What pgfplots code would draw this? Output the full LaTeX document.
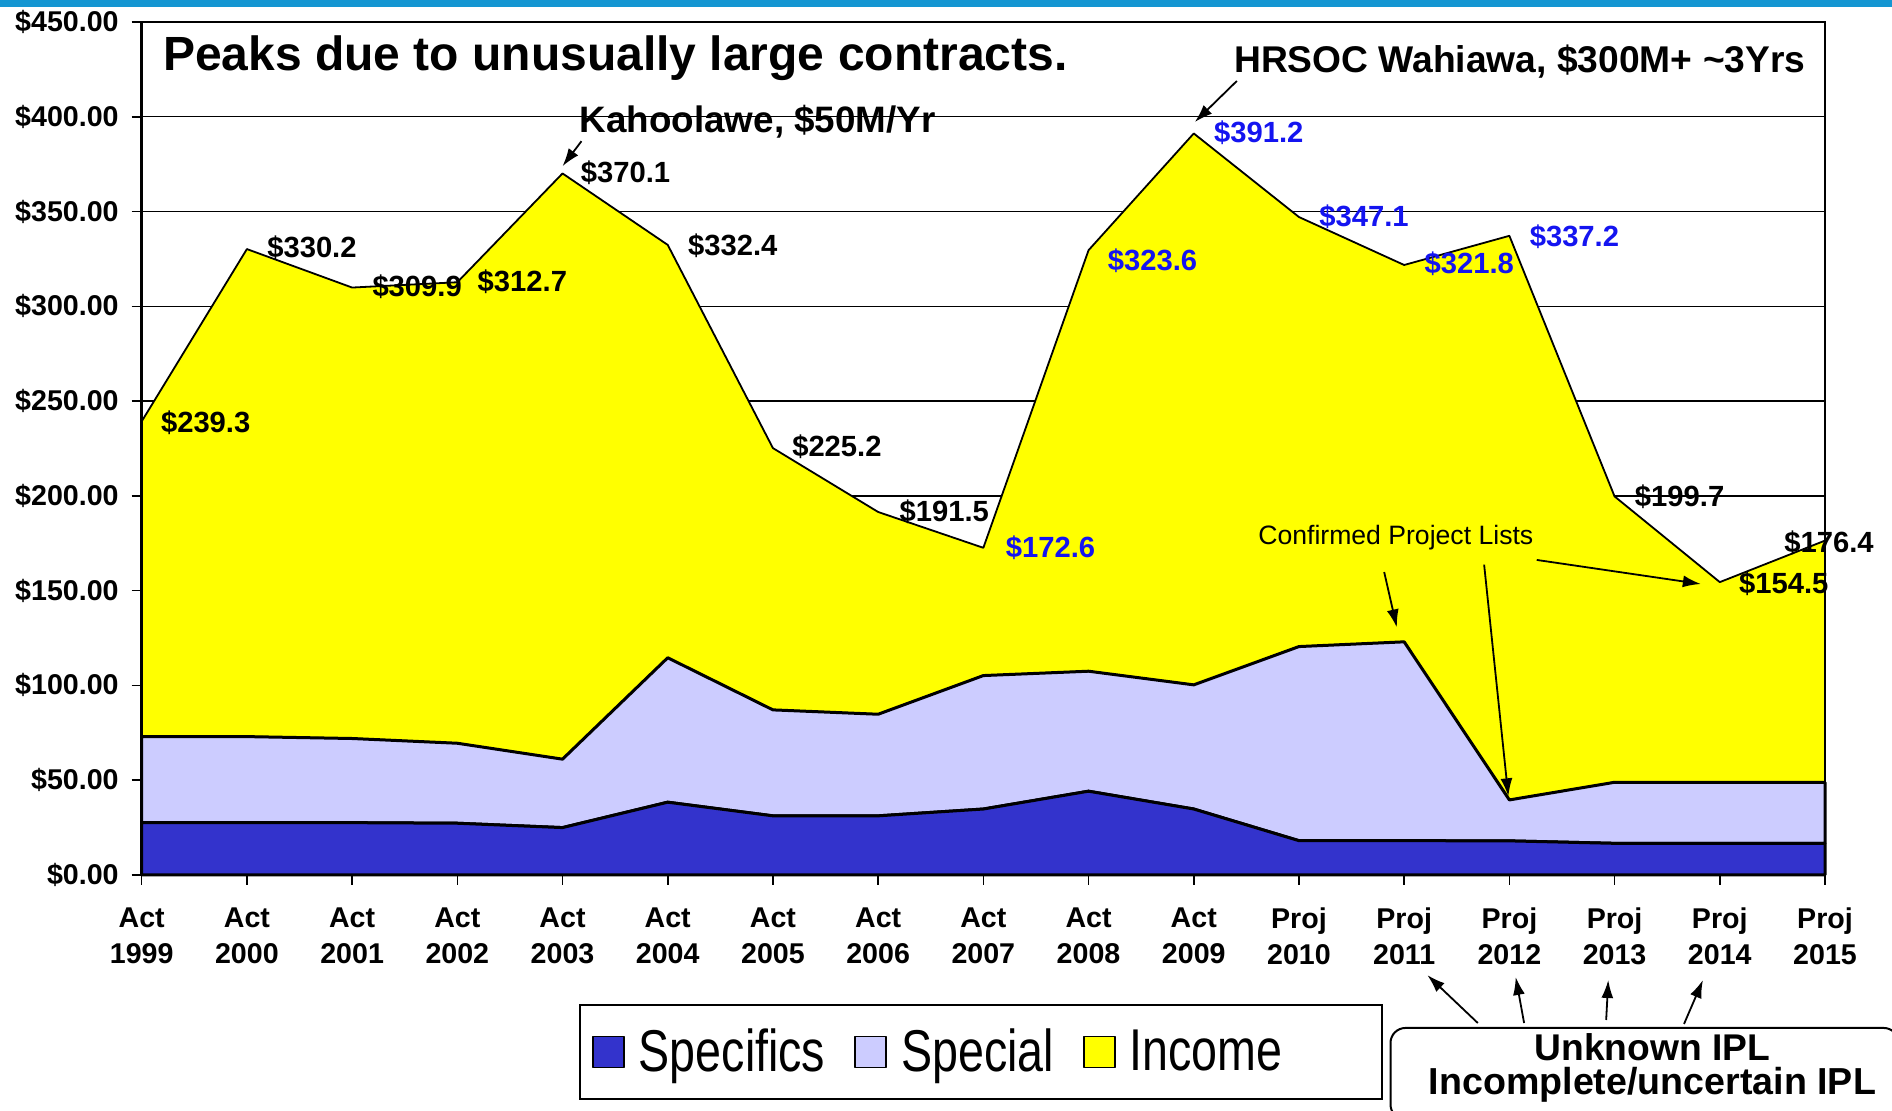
\documentclass[border=0pt]{standalone}
\usepackage{graphicx}
\usepackage{pgfplots}
\pgfplotsset{compat=1.18}
\usepackage{fontspec}
\setmainfont{Liberation Sans}
\usetikzlibrary{arrows.meta}
\definecolor{specC}{RGB}{51,51,204}
\definecolor{specialC}{RGB}{204,204,255}
\definecolor{incomeC}{RGB}{255,255,0}
\definecolor{lblblue}{RGB}{20,20,240}
\definecolor{topblue}{RGB}{20,150,210}
\begin{document}
\begin{tikzpicture}
\useasboundingbox (0,0) rectangle (946pt,555.5pt);
\fill[topblue] (0,552pt) rectangle (946pt,555.5pt);
\begin{axis}[
  at={(70.85pt,118pt)}, anchor=south west,
  scale only axis, width=841.65pt, height=426.5pt,
  xmin=0, xmax=16, ymin=0, ymax=450,
  stack plots=y, clip=false,
  ymajorgrids, grid style={black, line width=0.7pt},
  axis line style={black, line width=0.8pt},
  tick align=outside, tick pos=left, major tick length=5pt,
  tick style={black, line width=0.8pt},
  xtick={0,...,16},
  xticklabels={{Act\\1999},{Act\\2000},{Act\\2001},{Act\\2002},{Act\\2003},{Act\\2004},{Act\\2005},{Act\\2006},{Act\\2007},{Act\\2008},{Act\\2009},{Proj\\2010},{Proj\\2011},{Proj\\2012},{Proj\\2013},{Proj\\2014},{Proj\\2015}},
  ytick={0,50,...,450},
  yticklabels={\$0.00,\$50.00,\$100.00,\$150.00,\$200.00,\$250.00,\$300.00,\$350.00,\$400.00,\$450.00},
  ticklabel style={font=\fontsize{14.3}{18}\selectfont\bfseries},
  xticklabel style={align=center, yshift=-8pt},
  yticklabel style={xshift=-3pt},
  legend columns=3,
  legend image code/.code={\draw[#1,draw=black,line width=0.9pt] (0pt,-7.75pt) rectangle (15.5pt,7.75pt);},
  legend style={at={(0.2598,-0.2075)}, anchor=west, draw=black, line width=1pt,
    font=\fontsize{29.5}{31}\selectfont, inner xsep=6pt, inner ysep=10pt,
    /tikz/every odd column/.append style={column sep=5pt},
    /tikz/every even column/.append style={column sep=12.5pt}},
]
\addplot[fill=specC, draw=black, line width=1.5pt, line join=round] coordinates {
(0,27.6)(1,27.6)(2,27.6)(3,27.3)(4,25.0)(5,38.4)(6,31.2)(7,31.2)(8,34.8)(9,44.2)(10,34.8)(11,18.1)(12,18.1)(13,18.0)(14,16.7)(15,16.7)(16,16.7)
} \closedcycle;
\addlegendentry{\scalebox{0.79}[1]{Specifics}}
\addplot[fill=specialC, draw=black, line width=1.5pt, line join=round] coordinates {
(0,45.4)(1,45.4)(2,44.4)(3,42.2)(4,36.1)(5,76.2)(6,55.9)(7,53.6)(8,70.4)(9,63.3)(10,65.5)(11,102.4)(12,104.9)(13,21.6)(14,32.2)(15,32.2)(16,32.2)
} \closedcycle;
\addlegendentry{\scalebox{0.79}[1]{Special}}
\addplot[fill=incomeC, draw=black, line width=0.9pt, line join=round] coordinates {
(0,166.3)(1,257.2)(2,237.9)(3,243.2)(4,309.0)(5,217.8)(6,138.1)(7,106.7)(8,67.4)(9,222.1)(10,290.9)(11,226.6)(12,198.8)(13,297.6)(14,150.8)(15,105.6)(16,127.5)
} \closedcycle;
\addlegendentry{\makebox[118pt][l]{\scalebox{0.79}[1]{Income}}}
\end{axis}

\begin{scope}[x=52.603pt, y=0.947778pt, shift={(70.85pt,118pt)}]
\draw[black, line width=1.4pt] (0,450) -- (0,0) -- (16,0);

\begin{scope}[every node/.style={inner sep=0pt, anchor=west, font=\fontsize{14.6}{16}\selectfont\bfseries}]
\node at (0.18,238.8) {\$239.3};
\node at (1.19,331.1) {\$330.2};
\node at (2.19,310.1) {\$309.9};
\node at (3.19,312.7) {\$312.7};
\node at (4.17,370.6) {\$370.1};
\node at (5.19,331.8) {\$332.4};
\node at (6.18,226.1) {\$225.2};
\node at (7.20,191.7) {\$191.5};
\node at (14.19,199.4) {\$199.7};
\node at (15.18,153.5) {\$154.5};
\node at (15.61,175.1) {\$176.4};
\node[text=lblblue] at (8.21,172.6) {\$172.6};
\node[text=lblblue] at (9.18,324.1) {\$323.6};
\node[text=lblblue] at (10.19,391.6) {\$391.2};
\node[text=lblblue] at (11.19,347.0) {\$347.1};
\node[text=lblblue] at (12.19,322.2) {\$321.8};
\node[text=lblblue] at (13.19,336.8) {\$337.2};
\end{scope}

\node[inner sep=0pt, anchor=west, font=\fontsize{24}{26}\selectfont\bfseries] at (0.20,431) {Peaks due to unusually large contracts.};
\node[inner sep=0pt, anchor=west, font=\fontsize{18.6}{20}\selectfont\bfseries] at (10.38,429) {HRSOC Wahiawa, \$300M+ {\char126}3Yrs};
\node[inner sep=0pt, anchor=west, font=\fontsize{18.4}{20}\selectfont\bfseries] at (4.16,397.2) {Kahoolawe, \$50M/Yr};
\node[inner sep=0pt, anchor=west, font=\fontsize{13.3}{15}\selectfont] at (10.61,177.8) {Confirmed Project Lists};

\begin{scope}[line width=0.9pt, -{Latex[length=9pt,width=6pt]}]
\draw (10.41,418.9) -- (10.01,397.2);
\draw (4.18,387.1) -- (4.0,373.9);
\draw (11.81,159.8) -- (11.93,130.6);
\draw (12.76,163.7) -- (12.99,41.5);
\draw (13.26,166.2) -- (14.82,153.5);
\draw (12.70,-78.1) -- (12.22,-52.8);
\draw (13.14,-78.1) -- (13.06,-53.8);
\draw (13.92,-76.5) -- (13.94,-55.4);
\draw (14.66,-78.6) -- (14.84,-55.4);
\end{scope}

\draw[black, line width=1pt, rounded corners=7.5pt] (11.87,-80.7) rectangle (16.7,-129);
\node[inner sep=0pt, font=\fontsize{18.6}{20}\selectfont\bfseries] at (14.36,-90.7) {Unknown IPL};
\node[inner sep=0pt, font=\fontsize{18.8}{20}\selectfont\bfseries] at (14.36,-110.8) {Incomplete/uncertain IPL};
\end{scope}
\end{tikzpicture}
\end{document}
